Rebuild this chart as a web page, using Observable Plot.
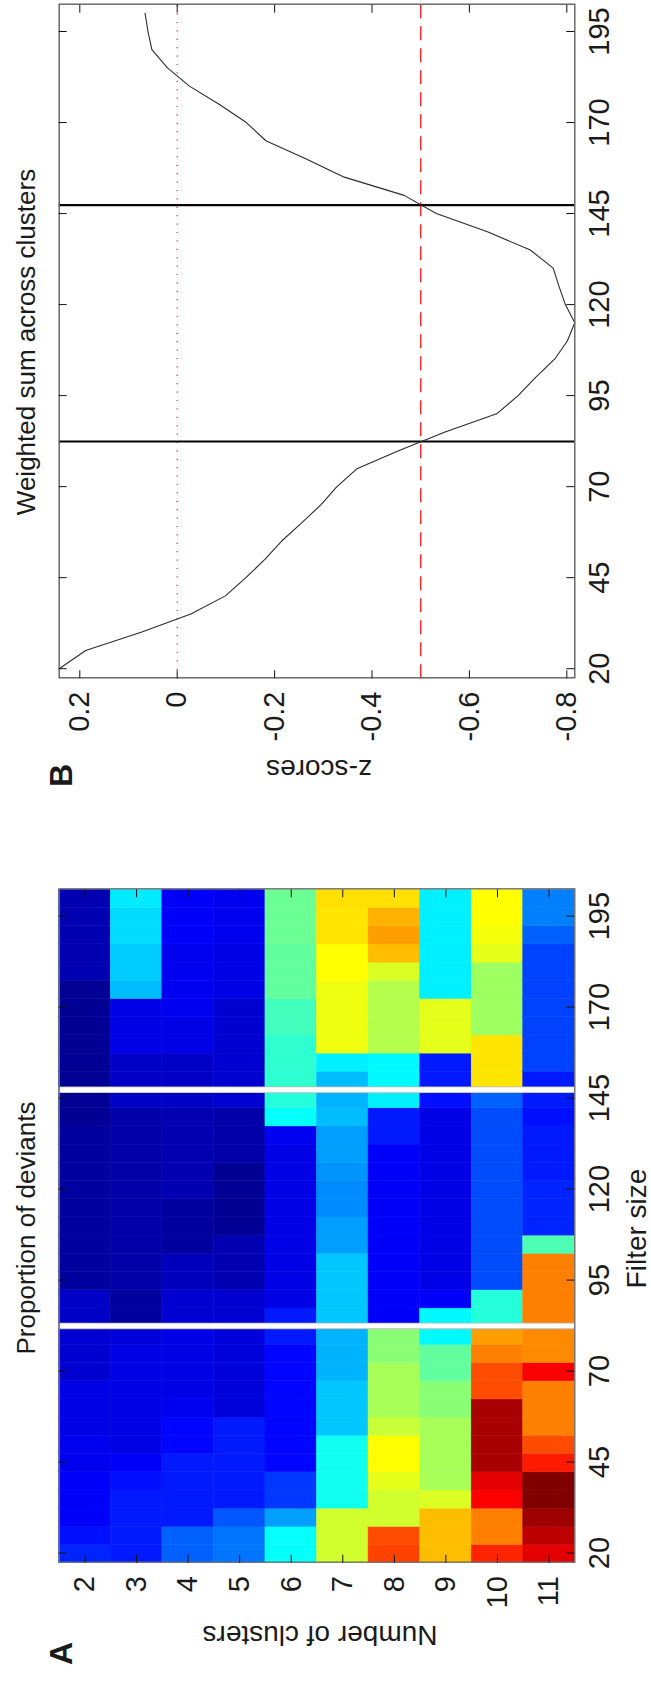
<!DOCTYPE html>
<html><head><meta charset="utf-8">
<script src="https://cdn.jsdelivr.net/npm/d3@7"></script>
<script src="https://cdn.jsdelivr.net/npm/@observablehq/plot@0.6"></script>
<style>
html,body{margin:0;padding:0;background:#fff;overflow:hidden;}
#page{position:relative;width:651px;height:1681px;overflow:hidden;background:#fff;}
#fig{position:absolute;left:0;top:0;width:1681px;height:651px;transform-origin:0 0;transform:translateY(1681px) rotate(-90deg);}
#fig svg{position:absolute;top:0;}
</style></head><body>
<div id="page"><div id="fig"></div></div>
<script>
// ---------- data ----------
const filterSizes = [20,25,30,35,40,45,50,55,60,65,70,75,80,85,90,95,100,105,110,115,120,125,130,135,140,145,150,155,160,165,170,175,180,185,190,195,200];
const filterTicks = [20,45,70,95,120,145,170,195];
const clusterCounts = [2,3,4,5,6,7,8,9,10,11];
// proportion of deviants (normalised colour position 0..1), one array per number of clusters, by filter size
const k2  = [.16,.14,.12,.12,.12,.11,.11,.10,.10,.10,.08,.08,.08,.07,.07,.03,.03,.03,.03,.03,.03,.03,.03,.03,.02,.02,.02,.02,.02,.02,.02,.02,.05,.05,.05,.05,.05];
const k3  = [.15,.15,.15,.15,.14,.12,.10,.10,.10,.10,.10,.10,.09,.03,.03,.04,.04,.04,.04,.04,.04,.04,.04,.04,.04,.07,.07,.07,.10,.10,.10,.31,.325,.325,.34,.34,.355];
const k4  = [.22,.22,.15,.15,.15,.15,.13,.13,.11,.10,.10,.10,.10,.08,.08,.06,.06,.03,.03,.03,.05,.05,.05,.05,.05,.07,.07,.07,.10,.10,.11,.11,.11,.11,.12,.12,.12];
const k5  = [.24,.24,.21,.15,.15,.15,.15,.15,.09,.09,.09,.09,.09,.08,.08,.05,.05,.05,.02,.02,.02,.02,.04,.04,.04,.08,.08,.08,.08,.08,.08,.10,.10,.10,.11,.11,.11];
const k6  = [.38,.38,.28,.18,.18,.13,.13,.13,.13,.13,.13,.13,.15,.15,.10,.10,.10,.10,.10,.10,.10,.10,.10,.11,.38,.41,.42,.42,.42,.44,.44,.47,.47,.47,.48,.48,.48];
const k7  = [.58,.58,.58,.39,.39,.39,.39,.32,.32,.32,.30,.30,.30,.32,.32,.32,.32,.28,.28,.26,.26,.27,.28,.28,.31,.30,.31,.36,.61,.61,.61,.61,.625,.625,.65,.65,.655];
const k8  = [.81,.80,.58,.58,.60,.625,.625,.57,.54,.54,.54,.51,.51,.12,.12,.12,.12,.12,.12,.12,.12,.12,.12,.15,.15,.36,.37,.37,.55,.55,.55,.55,.59,.69,.72,.70,.655];
const k9  = [.69,.69,.69,.59,.54,.54,.54,.54,.51,.51,.47,.47,.37,.37,.12,.10,.10,.10,.10,.10,.10,.10,.10,.10,.10,.14,.15,.15,.60,.60,.60,.36,.36,.36,.36,.36,.36];
const k10 = [.84,.75,.75,.88,.90,.96,.96,.96,.96,.80,.80,.75,.72,.41,.41,.20,.20,.20,.20,.20,.20,.20,.20,.20,.20,.22,.65,.65,.65,.53,.53,.53,.53,.60,.615,.625,.625];
const k11 = [.90,.94,.97,1.0,1.0,.85,.80,.75,.75,.75,.88,.74,.74,.75,.75,.75,.75,.45,.16,.16,.16,.15,.15,.15,.14,.15,.15,.19,.19,.19,.19,.19,.19,.19,.22,.25,.25];
const deviantRows = [k2,k3,k4,k5,k6,k7,k8,k9,k10,k11];
// weighted sum across clusters (z-scores), by filter size
const zScores = [0.2423,0.188,0.074,-0.028,-0.099,-0.141,-0.180,-0.214,-0.255,-0.295,-0.328,-0.370,-0.457,-0.550,-0.656,-0.700,-0.736,-0.775,-0.801,-0.8164,-0.797,-0.784,-0.772,-0.725,-0.637,-0.532,-0.466,-0.343,-0.265,-0.182,-0.142,-0.086,-0.025,0.020,0.052,0.060,0.066];
const zTicks = [0.2,0,-0.2,-0.4,-0.6,-0.8];
const boundaries = [82.4, 147.3];
const zeroLine = [0];
const threshold = [-0.5];

// ---------- helpers ----------
function jet(t){
  const c = v => Math.max(0, Math.min(1, v));
  const r = c(Math.min(4*t-1.5, -4*t+4.5));
  const g = c(Math.min(4*t-0.5, -4*t+3.5));
  const b = c(Math.min(4*t+0.5, -4*t+2.5));
  return `rgb(${Math.round(r*255)},${Math.round(g*255)},${Math.round(b*255)})`;
}
const font = "'Liberation Sans', Arial, Helvetica, sans-serif";
const H = 651, tickLen = 8;
const filterDomain = [filterSizes[0]-2.5, filterSizes[filterSizes.length-1]+2.5];
const cells = clusterCounts.flatMap((k,i) => deviantRows[i].map((v,j) => ({k, filter: filterSizes[j], value: v})));
const series = filterSizes.map((f,i) => ({filter: f, z: zScores[i]}));

// ---------- panel A ----------
const mA = {top:58.7, bottom:76.7, left:118.3, right:88.3}, WA = 880;
const pwA = WA - mA.left - mA.right, ph = H - mA.top - mA.bottom;
const plotA = Plot.plot({
  width: WA, height: H,
  marginTop: mA.top, marginBottom: mA.bottom, marginLeft: mA.left, marginRight: mA.right,
  style: {background:"transparent", fontFamily: font, color:"#1a1a1a", overflow:"visible"},
  x: {domain: filterDomain, axis: null},
  y: {domain: [1.5, 11.5], reverse: true, axis: null},
  color: {type:"linear", domain:[0,1], interpolate: jet},
  marks: [
    Plot.rect(cells, {x1: d => d.filter-2.5, x2: d => d.filter+2.5, y1: d => d.k-0.5, y2: d => d.k+0.5, fill:"value", stroke:"value", strokeWidth:0.5}),
    Plot.ruleX(boundaries, {stroke:"#b8b8b8", strokeWidth:6.6}),
    Plot.ruleX(boundaries, {stroke:"#ffffff", strokeWidth:4.8}),
    Plot.frame({stroke:"#707070", strokeWidth:1.4}),
    Plot.tickX(filterTicks, {x: d=>d, insetBottom: ph-tickLen, stroke:"#111"}),
    Plot.tickX(filterTicks, {x: d=>d, insetTop: ph-tickLen, stroke:"#111"}),
    Plot.tickY(clusterCounts, {y: d=>d, insetRight: pwA-tickLen, stroke:"#111"}),
    Plot.tickY(clusterCounts, {y: d=>d, insetLeft: pwA-tickLen, stroke:"#111"}),
    Plot.text(filterTicks, {x: d=>d, text: d=>String(d), frameAnchor:"bottom", dy:13.7, lineAnchor:"top", textAnchor:"middle", fontSize:29, ariaLabel:"tick-x"}),
    Plot.text(clusterCounts, {y: d=>d, text: d=>String(d), frameAnchor:"left", dx:-14, textAnchor:"end", lineAnchor:"middle", fontSize:29, ariaLabel:"tick-y"}),
    Plot.text(["Filter size"], {frameAnchor:"bottom", dx:-3, dy:71.2, lineAnchor:"bottom", textAnchor:"middle", fontSize:28, ariaLabel:"label-x"}),
    Plot.text(["Number of clusters"], {frameAnchor:"left", rotate:-90, dx:-64, dy:3, lineAnchor:"bottom", textAnchor:"middle", fontSize:28, ariaLabel:"label-y"}),
    Plot.text(["Proportion of deviants"], {frameAnchor:"top", dx:-2.5, dy:-24.5, lineAnchor:"bottom", textAnchor:"middle", fontSize:26, ariaLabel:"title"}),
    Plot.text(["A"], {frameAnchor:"top-left", dx:-91.3, dy:13, lineAnchor:"bottom", textAnchor:"middle", fontSize:32, fontWeight:"bold", ariaLabel:"letter"})
  ]
});

// ---------- panel B ----------
const mB = {top:58.7, bottom:76.7, left:122.7, right:4.7}, WB = 801, offB = 880;
const pwB = WB - mB.left - mB.right;
const plotB = Plot.plot({
  width: WB, height: H,
  marginTop: mB.top, marginBottom: mB.bottom, marginLeft: mB.left, marginRight: mB.right,
  style: {background:"transparent", fontFamily: font, color:"#1a1a1a", overflow:"visible"},
  x: {domain: filterDomain, axis: null},
  y: {domain: d3.extent(zScores), axis: null},
  marks: [
    Plot.ruleY(zeroLine, {stroke:"#ff2a2a", strokeWidth:1.3, strokeDasharray:"1.2,7.2"}),
    Plot.ruleY(threshold, {stroke:"#ff2a2a", strokeWidth:1.5, strokeDasharray:"14,8"}),
    Plot.ruleX(boundaries, {stroke:"#000", strokeWidth:2.2}),
    Plot.line(series, {x:"filter", y:"z", stroke:"#2a2a2a", strokeWidth:1.1}),
    Plot.frame({stroke:"#606060", strokeWidth:1.4}),
    Plot.tickX(filterTicks, {x: d=>d, insetBottom: ph-tickLen, stroke:"#111"}),
    Plot.tickX(filterTicks, {x: d=>d, insetTop: ph-tickLen, stroke:"#111"}),
    Plot.tickY(zTicks, {y: d=>d, insetRight: pwB-tickLen, stroke:"#111"}),
    Plot.tickY(zTicks, {y: d=>d, insetLeft: pwB-tickLen, stroke:"#111"}),
    Plot.text(filterTicks, {x: d=>d, text: d=>String(d), frameAnchor:"bottom", dy:13.7, lineAnchor:"top", textAnchor:"middle", fontSize:29, ariaLabel:"tick-x"}),
    Plot.text(zTicks, {y: d=>d, text: d => d === 0 ? "0" : d.toFixed(1), frameAnchor:"left", dx:-13.7, textAnchor:"end", lineAnchor:"middle", fontSize:29, ariaLabel:"tick-y"}),
    Plot.text(["z-scores"], {frameAnchor:"left", rotate:-90, dx:921-(offB+mB.left), dy:2, lineAnchor:"bottom", textAnchor:"middle", fontSize:28, ariaLabel:"label-y"}),
    Plot.text(["Weighted sum across clusters"], {frameAnchor:"top", dx:-1, dy:-24.5, lineAnchor:"bottom", textAnchor:"middle", fontSize:26, ariaLabel:"title"}),
    Plot.text(["B"], {frameAnchor:"top-left", dx:905-(offB+mB.left), dy:12.8, lineAnchor:"bottom", textAnchor:"middle", fontSize:32, fontWeight:"bold", ariaLabel:"letter"})
  ]
});

const fig = document.getElementById("fig");
plotA.style.left = "0px";
plotB.style.left = offB + "px";
fig.appendChild(plotA);
fig.appendChild(plotB);

// condense / stretch text to match the reference glyph proportions
function fit(svg, label, f, len){
  svg.querySelectorAll(`g[aria-label="${label}"] text`).forEach(t => {
    const L = len != null ? len : t.getComputedTextLength() * f;
    t.setAttribute("textLength", L.toFixed(1));
    t.setAttribute("lengthAdjust", "spacingAndGlyphs");
  });
}
for (const s of [plotA, plotB]) {
  fit(s, "tick-x", 0.85);
  fit(s, "tick-y", 0.85);
  fit(s, "letter", 0.8);
  fit(s, "label-x", 0.93);
  fit(s, "label-y", 0.95);
}
fit(plotA, "title", 1, 260);
fit(plotB, "title", 1, 357);
</script></body></html>
